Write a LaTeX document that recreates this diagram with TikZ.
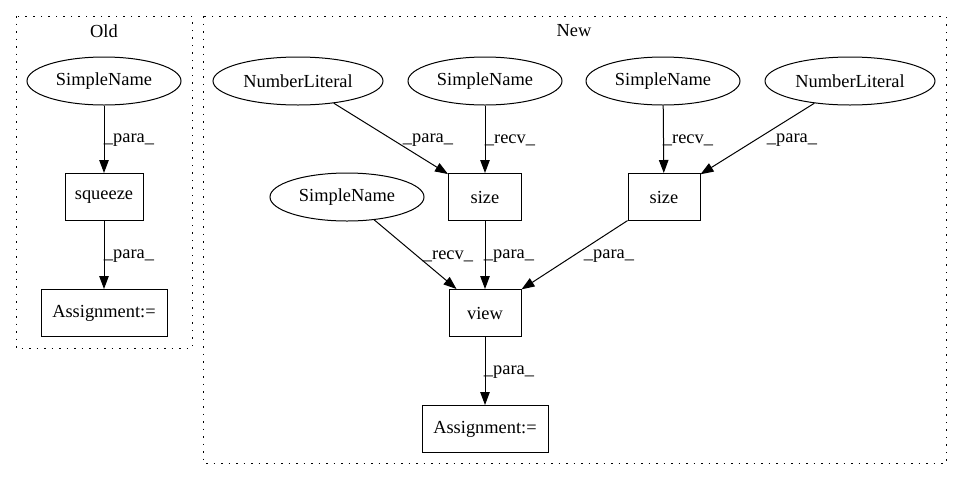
\documentclass[tikz,border=0pt]{standalone}
\usepackage{fontspec}
\setmainfont{Liberation Serif}
\usetikzlibrary{shapes.geometric,arrows.meta}
\begin{document}
\begin{tikzpicture}[x=1pt,y=-1pt,
  every node/.style={font=\fontsize{18.4}{22}\selectfont},
  ell/.style={draw,ellipse,line width=1pt,inner sep=0pt,minimum height=48pt},
  box/.style={draw,rectangle,line width=1pt,inner sep=0pt,minimum height=47pt},
  edge/.style={draw,line width=1pt,-{Triangle[length=13pt,width=9.5pt]}},
  lbl/.style={inner sep=0pt},
  cluster/.style={draw,line width=1pt,dash pattern=on 1.5pt off 6pt}]
\useasboundingbox (0,0) rectangle (963,480);
% clusters
\draw[cluster] (16,16) rectangle (192,348);
\draw[cluster] (203,16) rectangle (946,463);
\node[lbl] (oldlbl) at (104,31) {Old};
\node[lbl] (newlbl) at (574,31) {New};
% old
\node[ell,minimum width=154pt] (osn) at (104,81) {SimpleName};
\node[box,minimum width=78pt] (sq) at (104,197) {squeeze};
\node[box,minimum width=126pt] (oas) at (104,313) {Assignment:=};
% new
\node[ell,minimum width=170pt] (nl1) at (298,81) {NumberLiteral};
\node[ell,minimum width=154pt] (sn2) at (485,81) {SimpleName};
\node[ell,minimum width=154pt] (sn3) at (663,81) {SimpleName};
\node[ell,minimum width=170pt] (nl2) at (850,81) {NumberLiteral};
\node[ell,minimum width=154pt] (sn1) at (347,197) {SimpleName};
\node[box,minimum width=73pt] (s1) at (485,197) {size};
\node[box,minimum width=72pt] (s2) at (664,197) {size};
\node[box,minimum width=72pt] (view) at (485,313) {view};
\node[box,minimum width=126pt] (nas) at (485,429) {Assignment:=};
% edges
\draw[edge] (osn) -- (sq);
\draw[edge] (sq) -- (oas);
\draw[edge] (nl1) -- (s1);
\draw[edge] (sn2) -- (s1);
\draw[edge] (sn3) -- (s2);
\draw[edge] (nl2) -- (s2);
\draw[edge] (sn1) -- (view);
\draw[edge] (s1) -- (view);
\draw[edge] (s2) -- (view);
\draw[edge] (view) -- (nas);
% labels
\node[lbl] (l1) at (129,140) {\_para\_};
\node[lbl] (l2) at (129,256) {\_para\_};
\node[lbl] (l3) at (428,140) {\_para\_};
\node[lbl] (l4) at (510,140) {\_recv\_};
\node[lbl] (l5) at (688,140) {\_recv\_};
\node[lbl] (l6) at (792,140) {\_para\_};
\node[lbl] (l7) at (448,256) {\_recv\_};
\node[lbl] (l8) at (509,256) {\_para\_};
\node[lbl] (l9) at (609,256) {\_para\_};
\node[lbl] (l10) at (509,372) {\_para\_};
\end{tikzpicture}
\end{document}
